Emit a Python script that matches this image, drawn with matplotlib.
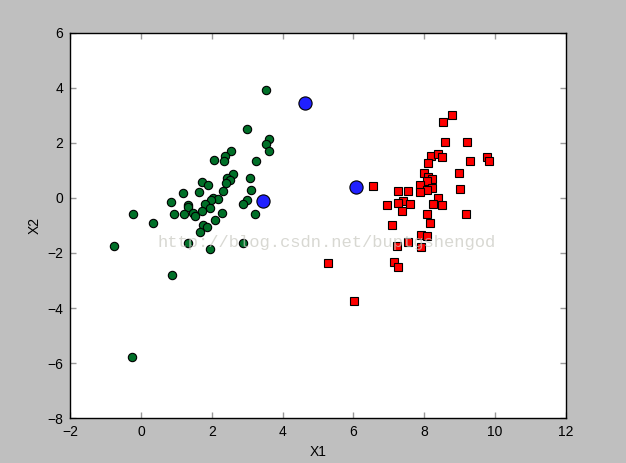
import matplotlib
matplotlib.use("Agg")
import matplotlib.pyplot as plt

green_x = [3.52, 3.00, 3.62, 3.53, 3.62, 2.54, 2.37, 2.35, 2.06, 3.25,
           2.59, 2.44, 2.52, 2.39, 3.09, 1.72, 1.89, 1.19, 1.65, 2.31,
           3.11, 0.86, 2.04, 2.17, 1.97, 1.80, 1.33, 1.34, 1.94, 1.72,
           3.00, 2.89, -0.23, 0.92, 1.22, 1.47, 1.52, 2.29, 3.21, 0.34,
           2.10, 1.74, 1.86, 1.68, -0.75, 1.32, 1.96, 2.87, 0.88, -0.24]
green_y = [3.93, 2.52, 2.16, 1.95, 1.71, 1.70, 1.54, 1.35, 1.38, 1.35,
           0.88, 0.72, 0.64, 0.55, 0.74, 0.57, 0.48, 0.19, 0.22, 0.24,
           0.28, -0.13, 0.01, -0.04, -0.08, -0.21, -0.27, -0.33, -0.36, -0.47,
           -0.07, -0.23, -0.57, -0.58, -0.58, -0.56, -0.64, -0.56, -0.57, -0.91,
           -0.81, -0.97, -1.05, -1.24, -1.75, -1.65, -1.87, -1.65, -2.81, -5.77]

red_x = [8.79, 8.54, 8.59, 9.22, 8.19, 8.38, 8.49, 8.12, 9.28, 9.78,
         9.84, 8.99, 8.00, 8.12, 8.23, 8.09, 6.54, 7.87, 8.23, 8.09,
         9.00, 7.27, 7.54, 7.87, 8.40, 7.41, 7.27, 7.61, 6.95, 8.25,
         8.49, 7.37, 8.09, 9.19, 8.15, 7.10, 7.91, 8.08, 7.54, 7.23,
         7.91, 5.28, 7.14, 7.26, 6.01]
red_y = [3.03, 2.76, 2.04, 2.05, 1.54, 1.59, 1.48, 1.26, 1.33, 1.48,
         1.36, 0.92, 0.89, 0.78, 0.70, 0.61, 0.43, 0.46, 0.36, 0.29,
         0.34, 0.25, 0.24, 0.20, 0.01, -0.12, -0.19, -0.22, -0.25, -0.23,
         -0.27, -0.48, -0.59, -0.59, -0.90, -0.99, -1.33, -1.37, -1.59, -1.76,
         -1.78, -2.35, -2.33, -2.51, -3.75]

centroid_x = [3.44, 4.64, 6.06]
centroid_y = [-0.10, 3.46, 0.39]

x_ticks = [-2, 0, 2, 4, 6, 8, 10, 12]
y_ticks = [-8, -6, -4, -2, 0, 2, 4, 6]

plt.rcParams['font.family'] = ['Liberation Sans', 'DejaVu Sans']

fig = plt.figure(figsize=(6.26, 4.63), dpi=100, facecolor='#bfbfbf')
ax = fig.add_axes([0.112, 0.097, 0.792, 0.832])
ax.set_facecolor('white')

ax.plot(green_x, green_y, 'o', color='#007028', markeredgecolor='black',
        markeredgewidth=0.8, markersize=6, zorder=3)
ax.plot(red_x, red_y, 's', color='#ff0000', markeredgecolor='black',
        markeredgewidth=0.8, markersize=5.3, zorder=3)
ax.plot(centroid_x, centroid_y, 'o', color='#2020ff', markeredgecolor='black',
        markeredgewidth=0.8, markersize=9.5, zorder=4)

ax.set_xlim(-2, 12)
ax.set_ylim(-8, 6)
ax.set_xticks(x_ticks)
ax.set_yticks(y_ticks)
ax.tick_params(direction='in', top=True, right=True, length=4, width=1,
               color='#999999', labelsize=10, pad=5)
for s in ax.spines.values():
    s.set_linewidth(1.0)
ax.set_xlabel('X1', fontsize=10)
ax.set_ylabel('X2', fontsize=10)

fig.text(0.251, 0.477, 'http://blog.csdn.net/buptgshengod',
         family=['Liberation Mono', 'DejaVu Sans Mono'], fontsize=12.3,
         color='#c8c8c0', alpha=0.7, ha='left', va='center', zorder=10)

fig.savefig('out.png', dpi=100, facecolor=fig.get_facecolor())
